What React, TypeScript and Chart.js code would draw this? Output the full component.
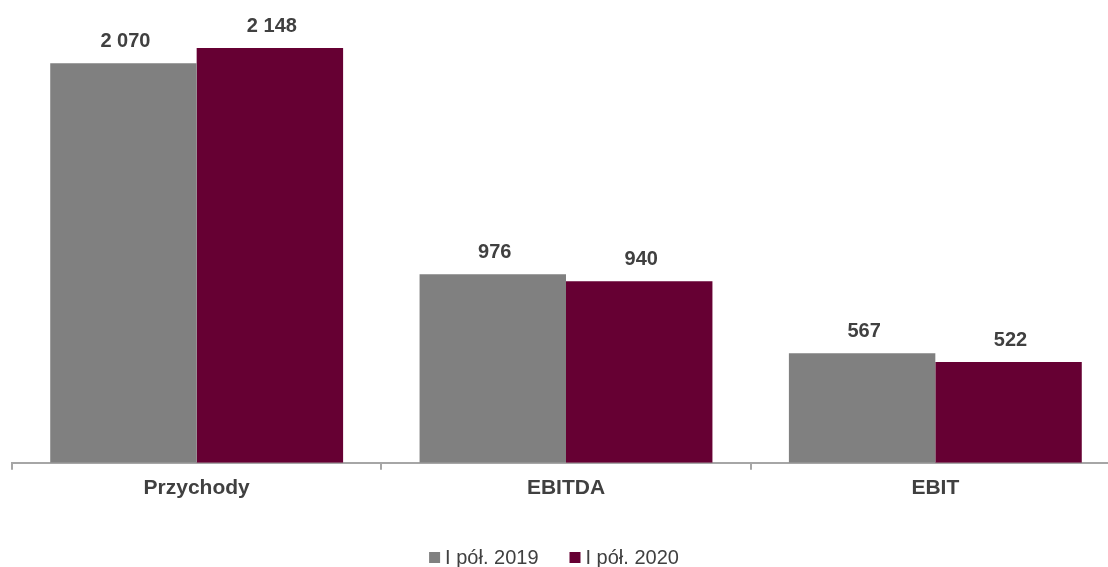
import React, { useEffect, useRef } from "react";
import { Chart, registerables } from "chart.js";

Chart.register(...registerables);

const categories = ["Przychody", "EBITDA", "EBIT"];
const values2019 = [2070, 976, 567];
const values2020 = [2148, 940, 522];
const seriesLabels = ["I pół. 2019", "I pół. 2020"];
const seriesColors = ["#808080", "#660033"];

const FONT = "'Liberation Sans', Arial, Helvetica, sans-serif";
const TEXT = "#404040";

function fmt(v: number): string {
  return String(v).replace(/\B(?=(\d{3})+(?!\d))/g, " ");
}

const dataLabels = {
  id: "dataLabels",
  afterDatasetsDraw(chart: any) {
    const ctx = chart.ctx;
    ctx.save();
    ctx.font = `bold 20px ${FONT}`;
    ctx.fillStyle = TEXT;
    ctx.textAlign = "center";
    ctx.textBaseline = "alphabetic";
    chart.data.datasets.forEach((ds: any, i: number) => {
      const meta = chart.getDatasetMeta(i);
      meta.data.forEach((bar: any, j: number) => {
        ctx.fillText(fmt(ds.data[j]), bar.x + 2, bar.y - 16);
      });
    });
    ctx.restore();
  },
};

const bottomLegend = {
  id: "bottomLegend",
  afterDraw(chart: any) {
    const ctx = chart.ctx;
    ctx.save();
    ctx.font = `20px ${FONT}`;
    const box = 11;
    const gap = 5;
    const itemGap = 31;
    const ds = chart.data.datasets;
    const widths = ds.map((d: any) => box + gap + ctx.measureText(d.label).width);
    const total = widths.reduce((a: number, b: number) => a + b, 0) + itemGap * (ds.length - 1);
    const centerX = 554;
    const baseline = 564;
    let x = centerX - total / 2;
    ds.forEach((d: any, i: number) => {
      ctx.fillStyle = d.backgroundColor;
      ctx.fillRect(x, baseline - box - 1, box, box);
      ctx.fillStyle = TEXT;
      ctx.textAlign = "left";
      ctx.textBaseline = "alphabetic";
      ctx.fillText(d.label, x + box + gap, baseline);
      x += widths[i] + itemGap;
    });
    ctx.restore();
  },
};

export default function App() {
  const ref = useRef<HTMLCanvasElement | null>(null);

  useEffect(() => {
    if (!ref.current) return;
    const chart = new Chart(ref.current, {
      type: "bar",
      data: {
        labels: categories,
        datasets: [
          {
            label: seriesLabels[0],
            data: values2019,
            backgroundColor: seriesColors[0],
            borderWidth: 0,
            categoryPercentage: 0.793,
            barPercentage: 1.0,
          },
          {
            label: seriesLabels[1],
            data: values2020,
            backgroundColor: seriesColors[1],
            borderWidth: 0,
            categoryPercentage: 0.793,
            barPercentage: 1.0,
          },
        ],
      },
      options: {
        responsive: false,
        animation: false,
        layout: { padding: { left: 12, right: 10, top: 0, bottom: 60 } },
        plugins: {
          legend: { display: false },
          tooltip: { enabled: false },
          title: { display: false },
        },
        scales: {
          x: {
            offset: true,
            grid: {
              display: true,
              offset: true,
              drawOnChartArea: false,
              drawTicks: true,
              tickLength: 7,
              color: "#a6a6a6",
              lineWidth: 2,
            },
            border: { display: true, color: "#a6a6a6", width: 2 },
            ticks: {
              font: { family: FONT, size: 21, weight: "bold" },
              color: TEXT,
              padding: 6,
            },
          },
          y: {
            display: false,
            min: 0,
            max: 2397,
          },
        },
      },
      plugins: [dataLabels, bottomLegend],
    });
    return () => chart.destroy();
  }, []);

  return (
    <div
      style={{
        position: "absolute",
        left: 0,
        top: 0,
        width: 1108,
        height: 567,
        overflow: "hidden",
        background: "#ffffff",
      }}
    >
      <canvas ref={ref} width={1130} height={567} style={{ display: "block" }} />
    </div>
  );
}
